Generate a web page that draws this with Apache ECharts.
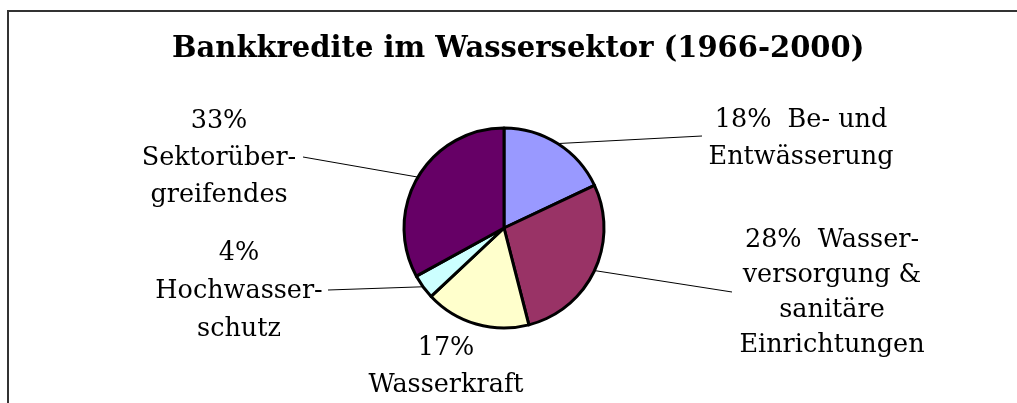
<!DOCTYPE html>
<html>
<head>
<meta charset="utf-8">
<script src="https://cdn.jsdelivr.net/npm/echarts@6/dist/echarts.min.js"></script>
<style>
  html, body { margin: 0; padding: 0; background: #fff; overflow: hidden; }
  #wrap { position: relative; width: 1017px; height: 403px; overflow: hidden; }
  #frame { position: absolute; left: 7px; top: 10px; width: 1100px; height: 500px; border: 2px solid #333; box-sizing: border-box; }
  #chart { position: absolute; left: 0; top: 0; width: 1017px; height: 403px; }
</style>
</head>
<body>
<div id="wrap">
  <div id="frame"></div>
  <div id="chart"></div>
</div>
<script>
// ---- data ----
const title = 'Bankkredite im Wassersektor (1966-2000)';
const categories = [
  'Be- und\nEntwässerung',
  'Wasser-\nversorgung &\nsanitäre\nEinrichtungen',
  'Wasserkraft',
  'Hochwasser-\nschutz',
  'Sektorüber-\ngreifendes'
];
const percentLabels = ['18%  ', '28%  ', '17%\n', '4%\n', '33%\n'];
const values = [18, 28, 17, 4, 33];

// ---- styling / layout (not data) ----
const colors = ['#9999FF', '#993366', '#FFFFCC', '#CCFFFF', '#660066'];
const labelPos = [
  { x: 801, y: 139, lh: 37, end: [702, 136] },
  { x: 832, y: 293, lh: 35, end: [732, 292] },
  { x: 446, y: 367, lh: 37, end: null },
  { x: 239, y: 291, lh: 38, end: [328, 290] },
  { x: 219, y: 158, lh: 37, end: [303, 157] }
];
const FONT = '"DejaVu Serif", "Liberation Serif", serif';

const chart = echarts.init(document.getElementById('chart'), null, { renderer: 'canvas' });

const seriesData = values.map((v, i) => ({
  name: categories[i],
  value: v,
  itemStyle: { color: colors[i] },
  label: { lineHeight: labelPos[i].lh },
  labelLine: { show: labelPos[i].end !== null }
}));

chart.setOption({
  animation: false,
  title: {
    text: title,
    left: 172,
    top: 35,
    padding: 0,
    textStyle: { fontFamily: FONT, fontWeight: 'bold', fontSize: 29, color: '#000' }
  },
  series: [{
    type: 'pie',
    center: [504, 228],
    radius: 100,
    startAngle: 90,
    clockwise: true,
    avoidLabelOverlap: false,
    data: seriesData,
    itemStyle: { borderColor: '#000', borderWidth: 3 },
    label: {
      show: true,
      position: 'outside',
      fontFamily: FONT,
      fontSize: 25.5,
      color: '#000',
      align: 'center',
      formatter: p => percentLabels[p.dataIndex] + p.name
    },
    labelLine: {
      show: true,
      length: 20,
      length2: 20,
      lineStyle: { color: '#000', width: 1 }
    },
    labelLayout: function (params) {
      const lp = labelPos[params.dataIndex];
      const out = { x: lp.x, y: lp.y, align: 'center', verticalAlign: 'middle', hideOverlap: false, moveOverlap: null };
      if (lp.end && params.labelLinePoints && params.labelLinePoints.length) {
        out.labelLinePoints = [params.labelLinePoints[0], lp.end];
      }
      return out;
    },
    emphasis: { disabled: true }
  }]
});
</script>
</body>
</html>
